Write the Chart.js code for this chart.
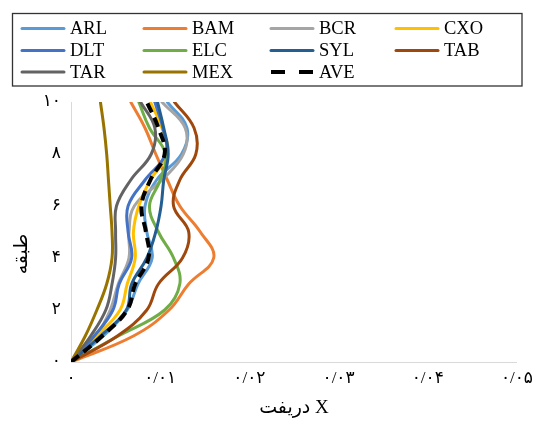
<!DOCTYPE html>
<html>
<head>
<meta charset="utf-8">
<script src="https://cdn.jsdelivr.net/npm/chart.js@4/dist/chart.umd.min.js"></script>
<style>
  html, body { margin: 0; padding: 0; background: #ffffff; }
  canvas { display: block; }
</style>
</head>
<body>
<canvas id="c" width="539" height="421"></canvas>
<script>
// ---- data (story drift) ----
const stories = [0, 1, 2, 3, 4, 5, 6, 7, 8, 9, 10];
const seriesNames = ['ARL', 'BAM', 'BCR', 'CXO', 'DLT', 'ELC', 'SYL', 'TAB', 'TAR', 'MEX', 'AVE'];
const ARL = [0, 0.0036, 0.0063, 0.0075, 0.0091, 0.0085, 0.0083, 0.0096, 0.0124, 0.0130, 0.0108];
const BAM = [0, 0.0070, 0.0110, 0.0132, 0.0160, 0.0145, 0.0122, 0.0108, 0.0095, 0.0083, 0.0067];
const BCR = [0, 0.0028, 0.0044, 0.0053, 0.0065, 0.0065, 0.0071, 0.0102, 0.0126, 0.0128, 0.0102];
const CXO = [0, 0.0029, 0.0055, 0.0063, 0.0072, 0.0070, 0.0076, 0.0089, 0.0108, 0.0102, 0.0089];
const DLT = [0, 0.0026, 0.0047, 0.0054, 0.0068, 0.0064, 0.0064, 0.0083, 0.0106, 0.0103, 0.0094];
const ELC = [0, 0.0053, 0.0105, 0.0122, 0.0115, 0.0098, 0.0088, 0.0100, 0.0106, 0.0088, 0.0076];
const SYL = [0, 0.0033, 0.0062, 0.0068, 0.0085, 0.0095, 0.0101, 0.0104, 0.0109, 0.0104, 0.0097];
const TAB = [0, 0.0052, 0.0085, 0.0098, 0.0125, 0.0132, 0.0115, 0.0122, 0.0140, 0.0138, 0.0116];
const TAR = [0, 0.0022, 0.0039, 0.0046, 0.0050, 0.0050, 0.0051, 0.0067, 0.0090, 0.0094, 0.0078];
const MEX = [0, 0.0016, 0.0029, 0.0040, 0.0046, 0.0046, 0.0044, 0.0042, 0.0040, 0.0037, 0.0033];
const AVE = [0, 0.0035, 0.0063, 0.0072, 0.0087, 0.0084, 0.0079, 0.0089, 0.0105, 0.0098, 0.0085];
const xTickLabels = ['۰', '۰/۰۱', '۰/۰۲', '۰/۰۳', '۰/۰۴', '۰/۰۵'];
const yTickLabels = ['۰', '۲', '۴', '۶', '۸', '۱۰'];
const xTitle = 'دریفت X';
const yTitle = 'طبقه';

// ---- styles ----
const seriesValues = [ARL, BAM, BCR, CXO, DLT, ELC, SYL, TAB, TAR, MEX, AVE];
const seriesColors = ['#5B9BD5', '#ED7D31', '#A5A5A5', '#FFC000', '#4472C4', '#70AD47',
                      '#255E91', '#9E480E', '#636363', '#997300', '#000000'];
const serif = '"Liberation Serif", "Times New Roman", "DejaVu Serif", "DejaVu Sans", serif';

const datasets = seriesNames.map((name, i) => {
  const isAve = name === 'AVE';
  return {
    label: name,
    data: stories.map((s, j) => ({ x: seriesValues[i][j], y: s })),
    showLine: true,
    borderColor: seriesColors[i],
    backgroundColor: seriesColors[i],
    borderWidth: isAve ? 4 : 3,
    borderDash: isAve ? [10, 6] : [],
    borderCapStyle: isAve ? 'butt' : 'round',
    borderJoinStyle: 'round',
    pointRadius: 0,
    pointHoverRadius: 0,
    tension: 0.4,
    fill: false,
    order: seriesNames.length - 1 - i
  };
});

// legend drawn as a 4-column grid, and the vertical axis title placed as in the reference
const gridLegend = {
  id: 'gridLegend',
  afterDraw(chart) {
    const ctx = chart.ctx;
    const cols = 4;
    const colX = [22, 144, 271, 396];
    const rowY = [28.5, 50.5, 72];
    const lineLen = 42;
    ctx.save();
    ctx.strokeStyle = '#333333';
    ctx.lineWidth = 1.3;
    ctx.strokeRect(12.5, 13.5, 509.5, 72.5);
    ctx.font = '18.5px ' + serif;
    ctx.textBaseline = 'middle';
    ctx.textAlign = 'left';
    chart.data.datasets.forEach((ds, i) => {
      const c = i % cols, r = Math.floor(i / cols);
      const x = colX[c], y = rowY[r];
      ctx.beginPath();
      ctx.strokeStyle = ds.borderColor;
      ctx.lineWidth = ds.label === 'AVE' ? 4 : 3;
      ctx.lineCap = ds.label === 'AVE' ? 'butt' : 'round';
      ctx.setLineDash(ds.label === 'AVE' ? [14, 14] : []);
      ctx.moveTo(x, y);
      ctx.lineTo(x + lineLen, y);
      ctx.stroke();
      ctx.setLineDash([]);
      ctx.fillStyle = '#000000';
      ctx.fillText(ds.label, x + 48, y + 1);
    });
    // vertical axis title
    ctx.translate(22, 254);
    ctx.rotate(-Math.PI / 2);
    ctx.font = '19px ' + serif;
    ctx.textAlign = 'center';
    ctx.textBaseline = 'middle';
    ctx.fillStyle = '#000000';
    ctx.fillText(yTitle, 0, 0);
    ctx.restore();
  }
};

new Chart(document.getElementById('c'), {
  type: 'scatter',
  data: { datasets },
  plugins: [gridLegend],
  options: {
    responsive: false,
    animation: false,
    devicePixelRatio: 1,
    layout: { padding: { top: 102, right: 18, bottom: 0, left: 0 } },
    plugins: { legend: { display: false }, tooltip: { enabled: false } },
    scales: {
      x: {
        type: 'linear', min: 0, max: 0.05,
        grid: { display: false, drawTicks: false },
        border: { display: true, color: '#D9D9D9', width: 1 },
        ticks: {
          stepSize: 0.01, autoSkip: false, maxRotation: 0, padding: 6,
          color: '#000000', font: { size: 17, family: serif },
          callback: (v, i) => xTickLabels[i]
        },
        title: {
          display: true, text: xTitle, color: '#000000',
          font: { size: 19, family: serif }, padding: { top: 0, bottom: 2 }
        },
        afterFit: (s) => { s.height = 59; }
      },
      y: {
        type: 'linear', min: 0, max: 10,
        grid: { display: false, drawTicks: false },
        border: { display: true, color: '#D9D9D9', width: 1 },
        ticks: {
          stepSize: 2, autoSkip: false, padding: 10,
          color: '#000000', font: { size: 17, family: serif },
          callback: (v, i) => yTickLabels[i]
        },
        title: { display: false },
        afterFit: (s) => { s.width = 71; }
      }
    }
  }
});
</script>
</body>
</html>
